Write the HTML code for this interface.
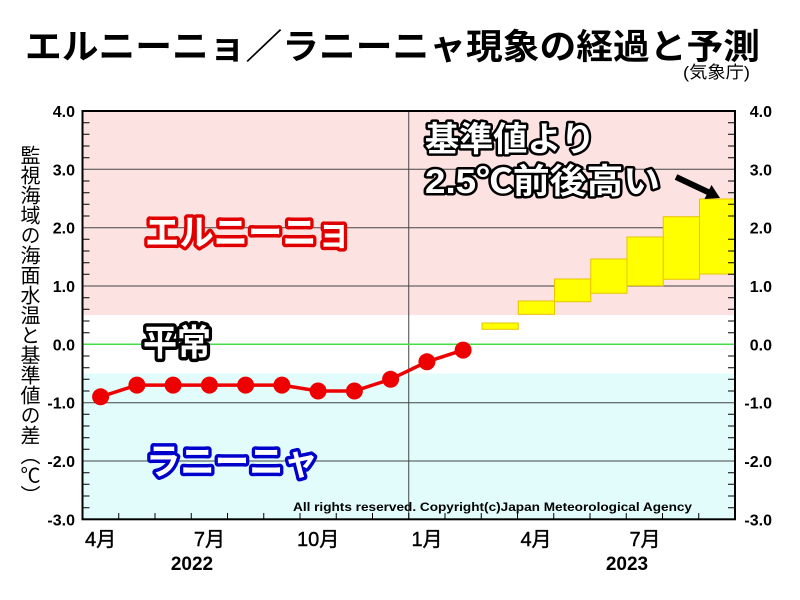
<!DOCTYPE html>
<html><head><meta charset="utf-8">
<style>
html,body{margin:0;padding:0;background:#fff;}
body{width:800px;height:600px;position:relative;overflow:hidden;}
svg{position:absolute;left:0;top:0;}
.jp{font-family:"Liberation Sans","Noto Sans CJK JP",sans-serif;}
#ylab{position:absolute;left:20px;top:145px;width:20px;writing-mode:vertical-rl;font-family:"Noto Sans CJK JP",sans-serif;font-size:20px;line-height:20px;color:#000;white-space:nowrap;}
</style></head>
<body>
<svg width="800" height="600" viewBox="0 0 800 600" xmlns="http://www.w3.org/2000/svg">
  <!-- title -->
  <text x="25" y="59" class="jp" font-size="35" font-weight="bold" textLength="735" lengthAdjust="spacingAndGlyphs" fill="#000">エルニーニョ／ラニーニャ現象の経過と予測</text>
  <text x="683" y="78" class="jp" font-size="17" textLength="67" lengthAdjust="spacingAndGlyphs" fill="#000">(気象庁)</text>

  <!-- background bands -->
  <rect x="82.5" y="111" width="652.5" height="204.2" fill="#fde2e2"/>
  <rect x="82.5" y="315.2" width="652.5" height="58.3" fill="#ffffff"/>
  <rect x="82.5" y="373.5" width="652.5" height="145.8" fill="#e2fcfc"/>

  <!-- grid lines -->
  <g stroke="#444" stroke-width="1">
    <line x1="82.5" y1="169.3" x2="735" y2="169.3"/>
    <line x1="82.5" y1="227.7" x2="735" y2="227.7"/>
    <line x1="82.5" y1="286" x2="735" y2="286"/>
    <line x1="82.5" y1="402.7" x2="735" y2="402.7"/>
    <line x1="82.5" y1="461" x2="735" y2="461"/>
    <line x1="408.75" y1="111" x2="408.75" y2="519.3"/>
  </g>
  <line x1="82.5" y1="344.3" x2="735" y2="344.3" stroke="#44dd44" stroke-width="1.5"/>

  <!-- forecast boxes -->
  <g fill="#ffff00" stroke="#e8c400" stroke-width="1">
    <rect x="482" y="323" width="36.25" height="6.3"/>
    <rect x="518.25" y="301" width="36.25" height="13.3"/>
    <rect x="554.5" y="279" width="36.25" height="22.7"/>
    <rect x="590.75" y="259" width="36.25" height="34.3"/>
    <rect x="627" y="237" width="36.25" height="48.7"/>
    <rect x="663.25" y="216.7" width="36.25" height="62.6"/>
    <rect x="699.5" y="199" width="35.5" height="75"/>
  </g>

  <!-- frame -->
  <rect x="82.5" y="111" width="652.5" height="408.3" fill="none" stroke="#000" stroke-width="2"/>

  <!-- y ticks -->
  <g stroke="#000" stroke-width="1">
    <path d="M82.5 122.7h7 M82.5 134.3h7 M82.5 146h7 M82.5 157.7h7 M82.5 181h7 M82.5 192.7h7 M82.5 204.3h7 M82.5 216h7 M82.5 239.3h7 M82.5 251h7 M82.5 262.7h7 M82.5 274.3h7 M82.5 297.7h7 M82.5 309.3h7 M82.5 321h7 M82.5 332.7h7 M82.5 356h7 M82.5 367.7h7 M82.5 379.3h7 M82.5 391h7 M82.5 414.3h7 M82.5 426h7 M82.5 437.7h7 M82.5 449.3h7 M82.5 472.7h7 M82.5 484.3h7 M82.5 496h7 M82.5 507.7h7"/>
    <path d="M735 122.7h-7 M735 134.3h-7 M735 146h-7 M735 157.7h-7 M735 181h-7 M735 192.7h-7 M735 204.3h-7 M735 216h-7 M735 239.3h-7 M735 251h-7 M735 262.7h-7 M735 274.3h-7 M735 297.7h-7 M735 309.3h-7 M735 321h-7 M735 332.7h-7 M735 356h-7 M735 367.7h-7 M735 379.3h-7 M735 391h-7 M735 414.3h-7 M735 426h-7 M735 437.7h-7 M735 449.3h-7 M735 472.7h-7 M735 484.3h-7 M735 496h-7 M735 507.7h-7"/>
    <path d="M118.75 519v-6 M155 519v-6 M191.25 519v-6 M227.5 519v-6 M263.75 519v-6 M300 519v-6 M336.25 519v-6 M372.5 519v-6 M408.75 519v-6 M445 519v-6 M481.25 519v-6 M517.5 519v-6 M553.75 519v-6 M590 519v-6 M626.25 519v-6 M662.5 519v-6 M698.75 519v-6"/>
  </g>

  <!-- y tick labels -->
  <g font-family="Liberation Sans, sans-serif" font-size="16" font-weight="bold" fill="#000" text-anchor="end">
    <text x="75" y="117">4.0</text>
    <text x="75" y="175.3">3.0</text>
    <text x="75" y="233.7">2.0</text>
    <text x="75" y="292">1.0</text>
    <text x="75" y="350.3">0.0</text>
    <text x="75" y="408.7">-1.0</text>
    <text x="75" y="467">-2.0</text>
    <text x="75" y="525.3">-3.0</text>
    <text x="772" y="117">4.0</text>
    <text x="772" y="175.3">3.0</text>
    <text x="772" y="233.7">2.0</text>
    <text x="772" y="292">1.0</text>
    <text x="772" y="350.3">0.0</text>
    <text x="772" y="408.7">-1.0</text>
    <text x="772" y="467">-2.0</text>
    <text x="772" y="525.3">-3.0</text>
  </g>

  <!-- x labels -->
  <g class="jp" font-size="20" fill="#000" stroke="#000" stroke-width="0.4" text-anchor="middle">
    <text x="100.6" y="546">4月</text>
    <text x="209.4" y="546">7月</text>
    <text x="318.1" y="546">10月</text>
    <text x="427" y="546">1月</text>
    <text x="536" y="546">4月</text>
    <text x="645" y="546">7月</text>
  </g>
  <g font-family="Liberation Sans, sans-serif" font-size="19" font-weight="bold" fill="#000" text-anchor="middle">
    <text x="192" y="570">2022</text>
    <text x="627" y="570">2023</text>
  </g>

  <!-- observed series -->
  <polyline fill="none" stroke="#ee0000" stroke-width="3.5" points="100.6,396.8 136.9,385.1 173.1,385.1 209.4,385.1 245.6,385.1 281.9,385.1 318.1,391 354.4,391 390.6,379.3 426.9,361.8 463.1,350.1"/>
  <g fill="#ee0000">
    <circle cx="100.6" cy="396.8" r="8.5"/>
    <circle cx="136.9" cy="385.1" r="8.5"/>
    <circle cx="173.1" cy="385.1" r="8.5"/>
    <circle cx="209.4" cy="385.1" r="8.5"/>
    <circle cx="245.6" cy="385.1" r="8.5"/>
    <circle cx="281.9" cy="385.1" r="8.5"/>
    <circle cx="318.1" cy="391" r="8.5"/>
    <circle cx="354.4" cy="391" r="8.5"/>
    <circle cx="390.6" cy="379.3" r="8.5"/>
    <circle cx="426.9" cy="361.8" r="8.5"/>
    <circle cx="463.1" cy="350.1" r="8.5"/>
  </g>

  <!-- region labels -->
  <text x="145" y="245" class="jp" font-size="36" font-weight="bold" fill="#fff" stroke="#e00000" stroke-width="7" stroke-linejoin="round" paint-order="stroke" textLength="206" lengthAdjust="spacingAndGlyphs">エルニーニョ</text>
  <text x="143" y="355" class="jp" font-size="36" font-weight="bold" fill="#fff" stroke="#000" stroke-width="7" stroke-linejoin="round" paint-order="stroke" textLength="68" lengthAdjust="spacingAndGlyphs">平常</text>
  <text x="146" y="474" class="jp" font-size="36" font-weight="bold" fill="#fff" stroke="#0000cc" stroke-width="7" stroke-linejoin="round" paint-order="stroke" textLength="172" lengthAdjust="spacingAndGlyphs">ラニーニャ</text>

  <!-- annotation -->
  <text x="425" y="151" class="jp" font-size="34" font-weight="bold" fill="#fff" stroke="#000" stroke-width="5" stroke-linejoin="round" paint-order="stroke" textLength="170" lengthAdjust="spacingAndGlyphs">基準値より</text>
  <text x="425" y="193" class="jp" font-size="34" font-weight="bold" fill="#fff" stroke="#000" stroke-width="5" stroke-linejoin="round" paint-order="stroke" textLength="235" lengthAdjust="spacingAndGlyphs">2.5℃前後高い</text>
  <line x1="676" y1="177" x2="709" y2="192.5" stroke="#000" stroke-width="6"/>
  <polygon points="720,198 704.5,199 711.5,185" fill="#000"/>

  <!-- copyright -->
  <text x="293" y="511" font-family="Liberation Sans, sans-serif" font-size="12" font-weight="bold" fill="#000" textLength="399" lengthAdjust="spacingAndGlyphs">All rights reserved. Copyright(c)Japan Meteorological Agency</text>
</svg>
<div id="ylab">監視海域の海面水温と基準値の差（℃）</div>
</body></html>
